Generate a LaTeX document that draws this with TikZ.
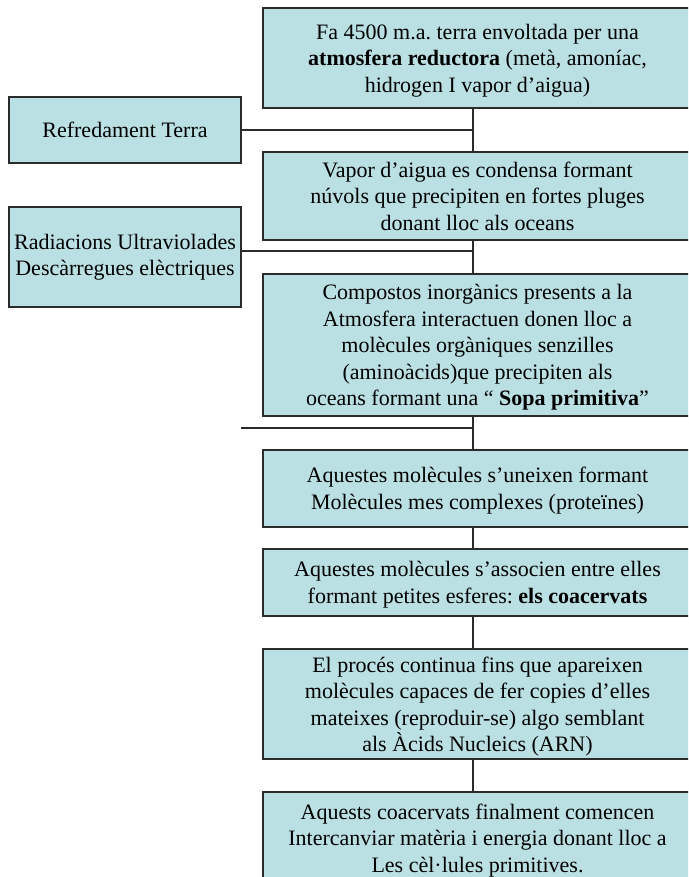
\documentclass[tikz,border=0pt]{standalone}
\usepackage{fontspec}
\setmainfont{Liberation Serif}
\usepackage{tikz}
\usetikzlibrary{positioning}
\definecolor{boxfill}{HTML}{BBE0E3}
\definecolor{edge}{HTML}{2B2B2B}
\frenchspacing

\begin{document}
\begin{tikzpicture}
  [
    x = 1pt, y = -1pt,
    every node/.style = {draw = edge, fill = boxfill, line width = 1.4pt,
      align = center, inner sep = 0pt, outer sep = 0pt,
      font = \fontsize{22}{26.5}\selectfont},
    stage/.style = {minimum width = 429pt, text depth = 0pt},  % boxes run past the right edge
    side/.style = {minimum width = 232pt},
    link/.style = {draw = edge, line width = 1.2pt}
  ]
  \useasboundingbox (0,0) rectangle (688,877);
  \clip (0,0) rectangle (688,877);
  \node [stage, minimum height = 100pt, anchor = north west] (Start) at (263,8)
    {Fa 4500 m.a. terra envoltada per una\\ \textbf{atmosfera reductora} (metà, amoníac,\\ hidrogen I vapor d’aigua)};
  \node [stage, minimum height = 88pt, below = 44pt of Start] (S2)
    {Vapor d’aigua es condensa formant\\ núvols que precipiten en fortes pluges\\ donant lloc als oceans};
  \node [stage, minimum height = 142pt, below = 34pt of S2] (S3)
    {Compostos inorgànics presents a la\\ Atmosfera interactuen donen lloc a\\ molècules orgàniques senzilles\\ (aminoàcids)que precipiten als\\ oceans formant una “ \textbf{Sopa primitiva}”};
  \node [stage, minimum height = 77pt, below = 34pt of S3] (S4)
    {Aquestes molècules s’uneixen formant\\ Molècules mes complexes (proteïnes)};
  \node [stage, minimum height = 67pt, below = 22pt of S4] (S5)
    {Aquestes molècules s’associen entre elles\\ formant petites esferes: \textbf{els coacervats}};
  \node [stage, minimum height = 110pt, below = 33pt of S5] (S6)
    {El procés continua fins que apareixen\\ molècules capaces de fer copies d’elles\\ mateixes (reproduir-se) algo semblant\\ als Àcids Nucleics (ARN)};
  \node [stage, minimum height = 92pt, below = 33pt of S6] (S7)
    {Aquests coacervats finalment comencen\\ Intercanviar matèria i energia donant lloc a\\ Les cèl·lules primitives.};

  % causes on the left
  \node [side, minimum height = 66pt, anchor = north west] (L1) at (9,97) {Refredament Terra};
  \node [side, minimum height = 100pt, anchor = north west] (L2) at (9,207)
    {Radiacions Ultraviolades\\ Descàrregues elèctriques};

  \coordinate (Spine) at (473,0);
  \coordinate (J1) at (473,130);
  \coordinate (J2) at (473,251);
  \coordinate (J3) at (473,428);
  \coordinate (Free) at (241,428);

  \foreach \a/\b in {Start/S2, S2/S3, S3/S4, S4/S5, S5/S6, S6/S7}
    \draw [link] (\a.south -| Spine) -- (\b.north -| Spine);
  \draw [link] (L1.east) -- (J1);
  \draw [link] (J2 -| L2.east) -- (J2);
  \draw [link] (Free) -- (J3);
\end{tikzpicture}
\end{document}
